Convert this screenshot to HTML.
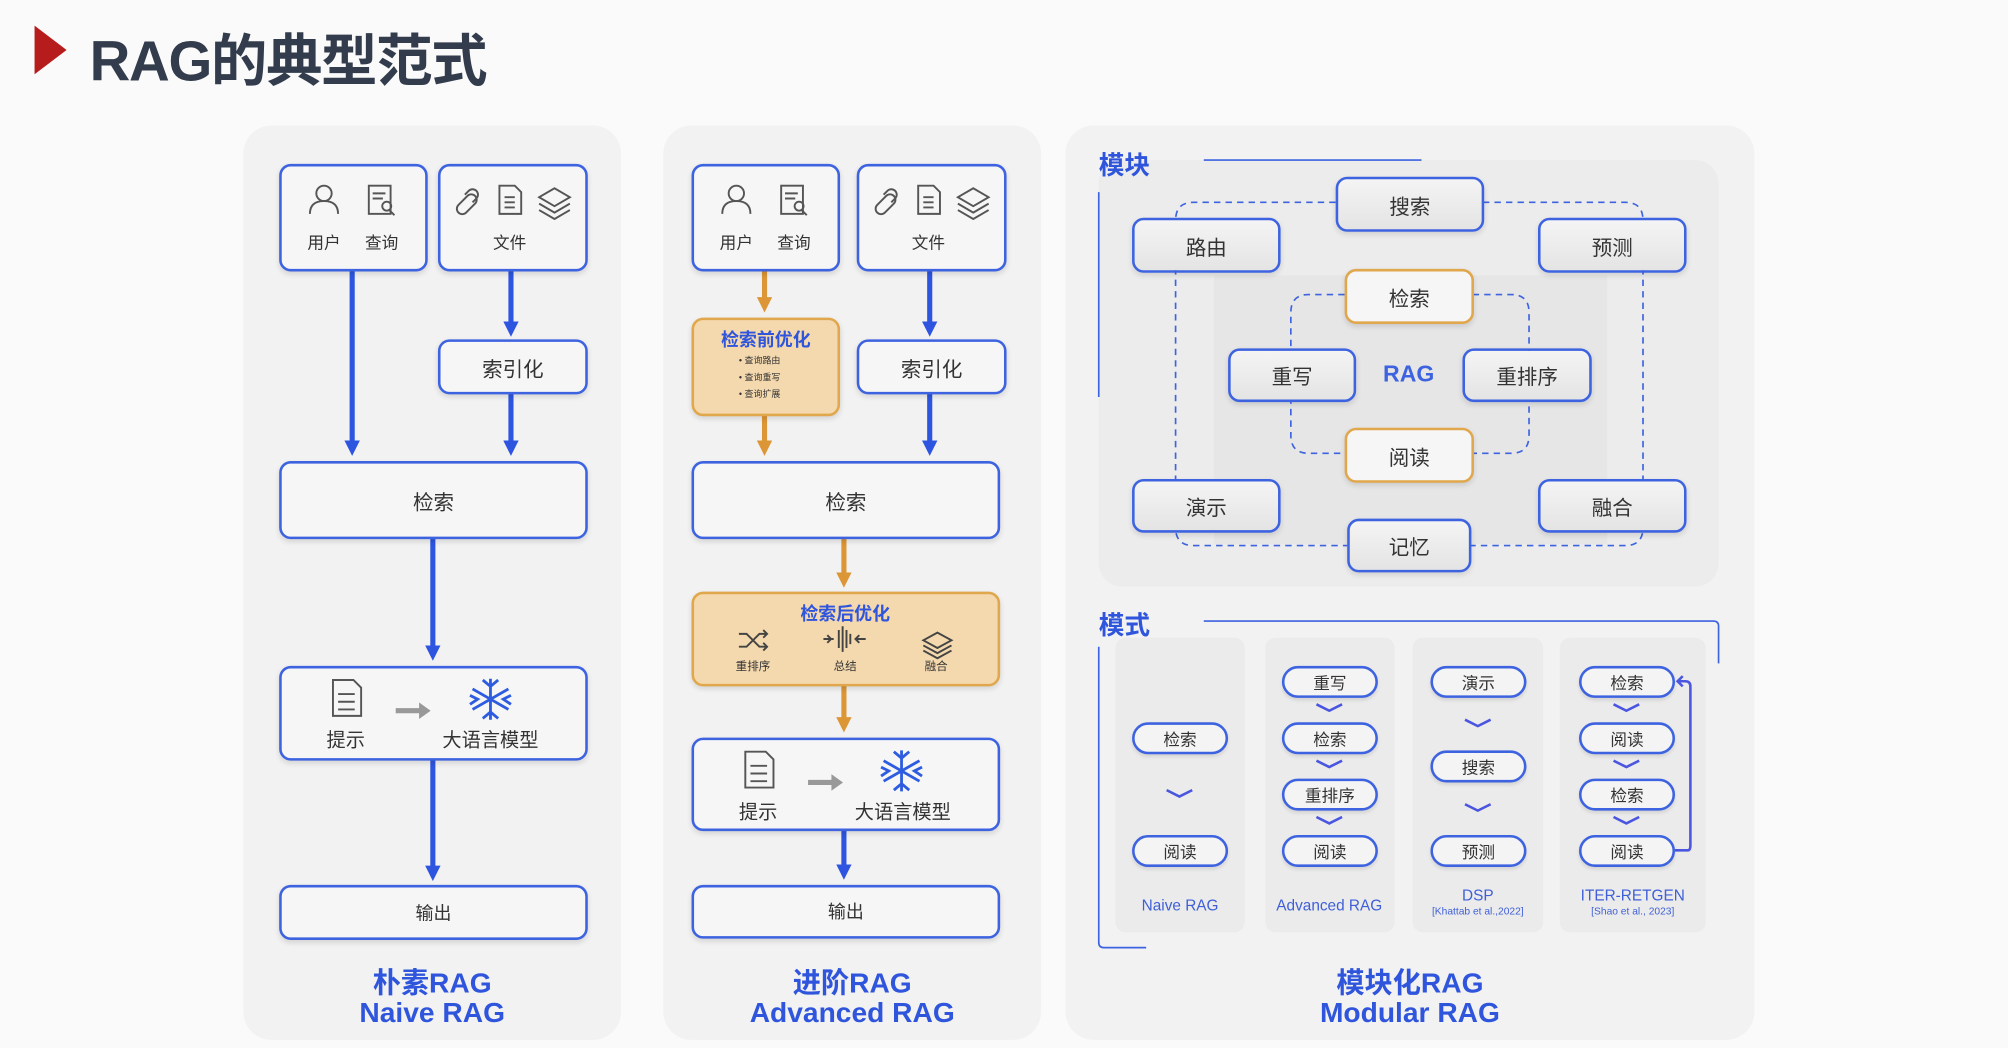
<!DOCTYPE html>
<html><head><meta charset="utf-8"><style>
*{margin:0;padding:0;box-sizing:border-box}
html,body{width:2008px;height:1048px;overflow:hidden;background:#fafafa}
#s{position:absolute;left:0;top:0;width:1568px;height:818px;transform:scale(1.2806);transform-origin:0 0;font-family:"Liberation Sans","Noto Sans CJK SC",sans-serif;color:#333}
.a{position:absolute}
.panel{position:absolute;background:#f2f2f2;border-radius:22px}
.b{position:absolute;border:2px solid #3d63e0;border-radius:9px;background:#f6f6f6;box-shadow:0 2px 4px rgba(0,0,0,.12);display:flex;align-items:center;justify-content:center;font-size:16px;color:#333}
.g{background:linear-gradient(#f4f4f4,#e4e4e4)}
.o{border-color:#e0a74c}
.p{position:absolute;border:2px solid #3d63e0;border-radius:13px;background:#f4f4f4;box-shadow:0 2px 3px rgba(0,0,0,.1);display:flex;align-items:center;justify-content:center;font-size:13px;color:#333;width:75px;height:25px}
.t{position:absolute;text-align:center;color:#2f55dc;font-weight:bold;line-height:23px;font-size:22px}
.lbl{position:absolute;color:#3f5fd8;font-size:12px;text-align:center;line-height:11px}
.sm{font-size:13px;color:#333;position:absolute;text-align:center}
</style></head><body><div id="s">
<svg class="a" style="left:0;top:0" width="1568" height="818">
<polygon points="27,20 52,39 27,58" fill="#b71c1c"/>
</svg>
<div class="a" style="left:70px;top:12px;font-size:44px;font-weight:bold;color:#323c4c;letter-spacing:-1px">RAG的典型范式</div>

<div class="panel" style="left:190px;top:98px;width:295px;height:714px"></div>
<div class="panel" style="left:518px;top:98px;width:295px;height:714px"></div>
<div class="panel" style="left:832px;top:98px;width:538px;height:714px"></div>
<div class="a" style="left:858px;top:125px;width:484px;height:333px;background:#ececec;border-radius:18px"></div>
<div class="a" style="left:948px;top:215px;width:307px;height:210px;background:#e6e6e6"></div>
<div class="a" style="left:871px;top:498px;width:101px;height:230px;background:#ebebeb;border-radius:8px"></div>
<div class="a" style="left:988px;top:498px;width:101px;height:230px;background:#ebebeb;border-radius:8px"></div>
<div class="a" style="left:1103px;top:498px;width:102px;height:230px;background:#ebebeb;border-radius:8px"></div>
<div class="a" style="left:1218px;top:498px;width:114px;height:230px;background:#ebebeb;border-radius:8px"></div>

<svg class="a" style="left:0;top:0" width="1568" height="818">
<defs>
<marker id="ab" markerWidth="3" markerHeight="3" refX="2" refY="1.5" orient="auto" markerUnits="strokeWidth"><path d="M0,0 L3,1.5 L0,3 Z" fill="#2d55e0"/></marker>
<marker id="ao" markerWidth="3" markerHeight="3" refX="2" refY="1.5" orient="auto" markerUnits="strokeWidth"><path d="M0,0 L3,1.5 L0,3 Z" fill="#dc9636"/></marker>
</defs>
<g stroke="#2d55e0" stroke-width="4" marker-end="url(#ab)">
<line x1="275" y1="211" x2="275" y2="352"/>
<line x1="399" y1="211" x2="399" y2="259"/>
<line x1="399" y1="307" x2="399" y2="352"/>
<line x1="338" y1="420" x2="338" y2="512"/>
<line x1="338" y1="593" x2="338" y2="684"/>
<line x1="726" y1="211" x2="726" y2="259"/>
<line x1="726" y1="307" x2="726" y2="352"/>
<line x1="659" y1="648" x2="659" y2="683"/>
</g>
<g stroke="#dc9636" stroke-width="4" marker-end="url(#ao)">
<line x1="597" y1="211" x2="597" y2="240"/>
<line x1="597" y1="324" x2="597" y2="352"/>
<line x1="659" y1="420" x2="659" y2="455"/>
<line x1="659" y1="535" x2="659" y2="568"/>
</g>
<g fill="none" stroke="#3d63e0" stroke-width="1.3">
<line x1="940" y1="125" x2="1110" y2="125"/>
<line x1="858" y1="150" x2="858" y2="310"/>
<path d="M940,485 H1338 Q1342,485 1342,489 V518"/>
<path d="M858,505 V736 Q858,740 862,740 H895"/>
</g>
<g fill="none" stroke="#3d63e0" stroke-width="1.3" stroke-dasharray="5,4">
<path d="M1043,158 H932 Q918,158 918,172 V412 Q918,426 932,426 H1052"/>
<path d="M1158,158 H1269 Q1283,158 1283,172 V412 Q1283,426 1269,426 H1148"/>
<path d="M1050,230 H1022 Q1008,230 1008,244 V340 Q1008,354 1022,354 H1050"/>
<path d="M1150,230 H1180 Q1194,230 1194,244 V340 Q1194,354 1180,354 H1150"/>
</g>
<g fill="none" stroke="#4a55e0" stroke-width="2">
<path d="M911,617 l10,5 l10,-5"/>
<path d="M1028,550 l10,5 l10,-5"/><path d="M1028,594 l10,5 l10,-5"/><path d="M1028,638 l10,5 l10,-5"/>
<path d="M1144,562 l10,5 l10,-5"/><path d="M1144,628 l10,5 l10,-5"/>
<path d="M1260,550 l10,5 l10,-5"/><path d="M1260,594 l10,5 l10,-5"/><path d="M1260,638 l10,5 l10,-5"/>
<path d="M1308,664 H1318 Q1320,664 1320,660 V536 Q1320,532 1316,532 H1310 M1314,528 l-4,4 l4,4"/>
</g>
</svg>

<!-- panel 1 -->
<div class="b" style="left:218px;top:128px;width:116px;height:84px"></div>
<div class="b" style="left:342px;top:128px;width:117px;height:84px"></div>
<div class="b" style="left:342px;top:265px;width:117px;height:43px">索引化</div>
<div class="b" style="left:218px;top:360px;width:241px;height:61px">检索</div>
<div class="b" style="left:218px;top:520px;width:241px;height:74px"></div>
<div class="b" style="left:218px;top:691px;width:241px;height:43px;font-size:14px">输出</div>
<!-- panel 2 -->
<div class="b" style="left:540px;top:128px;width:116px;height:84px"></div>
<div class="b" style="left:669px;top:128px;width:117px;height:84px"></div>
<div class="b o" style="left:540px;top:248px;width:116px;height:77px;background:#f5d9ae"></div>
<div class="b" style="left:669px;top:265px;width:117px;height:43px">索引化</div>
<div class="b" style="left:540px;top:360px;width:241px;height:61px">检索</div>
<div class="b o" style="left:540px;top:462px;width:241px;height:74px;background:#f5d9ae"></div>
<div class="b" style="left:540px;top:576px;width:241px;height:73px"></div>
<div class="b" style="left:540px;top:691px;width:241px;height:42px;font-size:14px">输出</div>

<svg class="a" style="left:0;top:0" width="1568" height="818" fill="none" stroke="#555" stroke-width="1.5">
<g id="uq"><circle cx="253" cy="151" r="6"/><path d="M242,167 q0,-10 11,-10 q11,0 11,10"/>
<rect x="288" y="145" width="17" height="22"/><path d="M291,151h10M291,155h8"/><circle cx="302" cy="161" r="3.5"/><path d="M304,164 l4,4"/></g>
<g id="fl"><path d="M358,160 l7,-7 a4,4 0 0 1 6,6 l-7,7 a4,4 0 0 1 -6,-6z"/><path d="M363,152 l3,-3 a4,4 0 0 1 6,6 l-3,3"/>
<path d="M390,145 h12 l5,5 v17 h-17z"/><path d="M394,154h8M394,158h8M394,162h8"/>
<path d="M421,154 l12,-7 l12,7 l-12,7z"/><path d="M421,159 l12,7 l12,-7M421,164 l12,7 l12,-7"/></g>
<use href="#uq" x="322"/><use href="#fl" x="327"/>
<g id="pr"><path d="M260,531 h16 l6,6 v22 h-22z"/><path d="M264,542h13M264,548h13M264,554h13"/></g>
<use href="#pr" x="322" y="56"/>
<path d="M309,555 h22" stroke="#999" stroke-width="4"/><path d="M328,550 l7,5 l-7,5z" fill="#999" stroke="#999"/>
<path d="M631,611 h22" stroke="#999" stroke-width="4"/><path d="M650,606 l7,5 l-7,5z" fill="#999" stroke="#999"/>
<g id="sn" stroke="#2d5ce0" stroke-width="2.2"><path d="M383,530 v32 M369,538 l28,16 M369,554 l28,-16 M377,531 l6,5 l6,-5 M377,561 l6,-5 l6,5 M367,543 l6,3 l-6,4 M399,543 l-6,3 l6,4"/></g>
<use href="#sn" x="321" y="56"/>
<g stroke="#444" stroke-width="1.5"><path d="M577,495 h6 l10,10 h6 M577,505 h6 l10,-10 h6 M596,492 l3,3 l-3,3 M596,502 l3,3 l-3,3"/>
<path d="M643,499 h8 M646,496 l3,3 l-3,3 M676,499 h-8 M671,496 l-3,3 l3,3 M655,492v14M658,489v20M661,492v14M664,495v8"/>
<path d="M721,500 l11,-6 l11,6 l-11,6z M721,504 l11,6 l11,-6 M721,508 l11,6 l11,-6"/></g>
</svg>
<div class="sm" style="left:238px;top:179px;width:30px">用户</div>
<div class="sm" style="left:283px;top:179px;width:30px">查询</div>
<div class="sm" style="left:383px;top:179px;width:30px">文件</div>
<div class="sm" style="left:560px;top:179px;width:30px">用户</div>
<div class="sm" style="left:605px;top:179px;width:30px">查询</div>
<div class="sm" style="left:710px;top:179px;width:30px">文件</div>
<div class="sm" style="left:250px;top:567px;width:40px;font-size:15px">提示</div>
<div class="sm" style="left:338px;top:567px;width:90px;font-size:15px">大语言模型</div>
<div class="sm" style="left:572px;top:623px;width:40px;font-size:15px">提示</div>
<div class="sm" style="left:660px;top:623px;width:90px;font-size:15px">大语言模型</div>
<div class="sm" style="left:548px;top:255px;width:100px;color:#2f55dc;font-weight:bold;font-size:14px">检索前优化</div>
<div class="a" style="left:577px;top:276px;font-size:7px;line-height:13px;color:#333">• 查询路由<br>• 查询重写<br>• 查询扩展</div>
<div class="sm" style="left:600px;top:469px;width:120px;color:#2f55dc;font-weight:bold;font-size:14px">检索后优化</div>
<div class="sm" style="left:568px;top:513px;width:40px;font-size:9px">重排序</div>
<div class="sm" style="left:640px;top:513px;width:40px;font-size:9px">总结</div>
<div class="sm" style="left:711px;top:513px;width:40px;font-size:9px">融合</div>

<div class="t" style="left:190px;top:756px;width:295px">朴素RAG<br>Naive RAG</div>
<div class="t" style="left:518px;top:756px;width:295px">进阶RAG<br>Advanced RAG</div>
<div class="t" style="left:832px;top:756px;width:538px">模块化RAG<br>Modular RAG</div>

<!-- module -->
<div class="a" style="left:858px;top:113px;color:#2f55dc;font-weight:bold;font-size:20px">模块</div>
<div class="a" style="left:858px;top:472px;color:#2f55dc;font-weight:bold;font-size:20px">模式</div>
<div class="b g" style="left:1043px;top:138px;width:116px;height:43px">搜索</div>
<div class="b g" style="left:884px;top:170px;width:116px;height:43px">路由</div>
<div class="b g" style="left:1201px;top:170px;width:116px;height:43px">预测</div>
<div class="b o" style="left:1050px;top:210px;width:101px;height:43px">检索</div>
<div class="b g" style="left:959px;top:272px;width:100px;height:42px">重写</div>
<div class="a" style="left:1070px;top:282px;width:60px;text-align:center;color:#3d63e0;font-weight:bold;font-size:18px">RAG</div>
<div class="b g" style="left:1142px;top:272px;width:101px;height:42px">重排序</div>
<div class="b o" style="left:1050px;top:334px;width:101px;height:43px">阅读</div>
<div class="b g" style="left:884px;top:374px;width:116px;height:42px">演示</div>
<div class="b g" style="left:1201px;top:374px;width:116px;height:42px">融合</div>
<div class="b g" style="left:1052px;top:405px;width:97px;height:42px">记忆</div>

<div class="p o" style="left:884px;top:564px">检索</div>
<div class="p o" style="left:884px;top:652px">阅读</div>
<div class="p" style="left:1001px;top:520px">重写</div>
<div class="p o" style="left:1001px;top:564px">检索</div>
<div class="p" style="left:1001px;top:608px">重排序</div>
<div class="p o" style="left:1001px;top:652px">阅读</div>
<div class="p" style="left:1117px;top:520px">演示</div>
<div class="p" style="left:1117px;top:586px">搜索</div>
<div class="p" style="left:1117px;top:652px">预测</div>
<div class="p o" style="left:1233px;top:520px">检索</div>
<div class="p o" style="left:1233px;top:564px">阅读</div>
<div class="p o" style="left:1233px;top:608px">检索</div>
<div class="p o" style="left:1233px;top:652px">阅读</div>
<div class="lbl" style="left:871px;top:702px;width:101px">Naive RAG</div>
<div class="lbl" style="left:980px;top:702px;width:116px">Advanced RAG</div>
<div class="lbl" style="left:1103px;top:694px;width:102px">DSP<br><span style="font-size:8px">[Khattab et al.,2022]</span></div>
<div class="lbl" style="left:1218px;top:694px;width:114px">ITER-RETGEN<br><span style="font-size:8px">[Shao et al., 2023]</span></div>
</div></body></html>
